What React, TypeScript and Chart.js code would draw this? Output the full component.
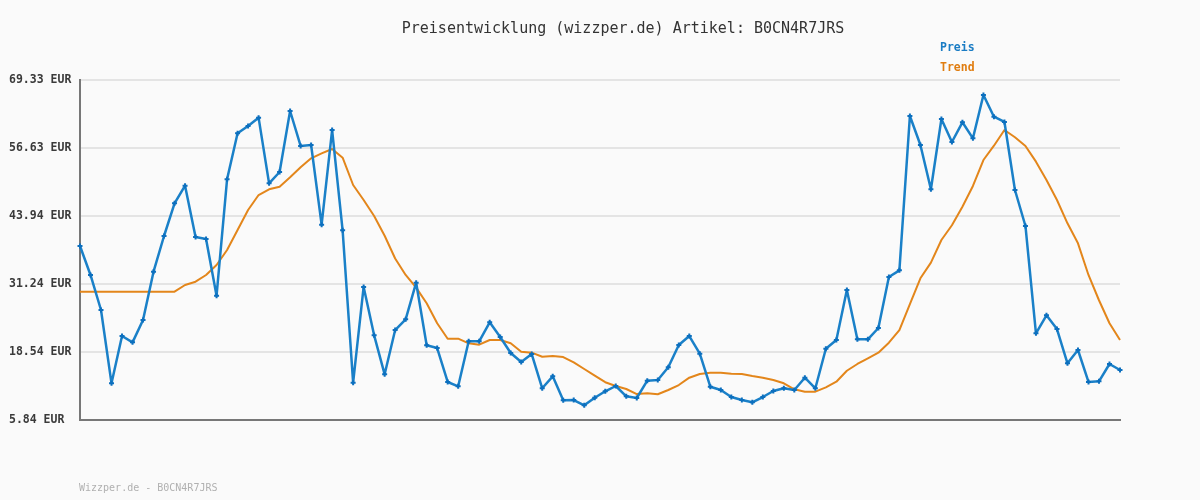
import React, { useEffect, useRef } from "react";
import { Chart, registerables } from "chart.js";

Chart.register(...registerables);

const TITLE = "Preisentwicklung (wizzper.de) Artikel: B0CN4R7JRS";
const FOOTER = "Wizzper.de - B0CN4R7JRS";
const SERIES_NAMES = ["Preis", "Trend"];

const yTicks = [5.84, 18.54, 31.24, 43.94, 56.63, 69.33];

const price = [
  38.33, 32.92, 26.38, 12.69, 21.52, 20.34, 24.51, 33.54, 40.2, 46.3,
  49.6, 40.01, 39.64, 29.06, 50.78, 59.37, 60.74, 62.3, 50.03, 52.15,
  63.54, 57.01, 57.19, 42.31, 59.99, 41.26, 12.81, 30.68, 21.65, 14.37,
  22.64, 24.64, 31.48, 19.79, 19.28, 12.94, 12.13, 20.53, 20.53, 24.08,
  21.34, 18.35, 16.67, 18.16, 11.76, 14.0, 9.52, 9.57, 8.58, 10.0,
  11.2, 12.19, 10.26, 9.95, 13.18, 13.31, 15.68, 19.84, 21.52, 18.22,
  12.06, 11.44, 10.13, 9.57, 9.14, 10.13, 11.25, 11.76, 11.44, 13.74,
  11.76, 19.15, 20.78, 30.11, 20.91, 20.91, 23.02, 32.54, 33.79, 62.61,
  57.19, 48.92, 62.05, 57.75, 61.43, 58.44, 66.53, 62.48, 61.49, 48.79,
  42.07, 22.03, 25.39, 22.83, 16.43, 18.91, 12.94, 13.06, 16.3, 15.18,
];

const trend = [
  29.8, 29.8, 29.8, 29.8, 29.8, 29.8, 29.8, 29.8, 29.8, 29.8,
  31.05, 31.67, 32.92, 34.78, 37.58, 41.32, 45.05, 47.85, 48.92, 49.41,
  51.16, 53.02, 54.7, 55.64, 56.44, 54.82, 49.72, 46.92, 43.93, 40.25,
  36.0, 32.92, 30.55, 27.63, 23.9, 21.02, 21.02, 20.16, 19.9, 20.78,
  20.78, 20.16, 18.6, 18.41, 17.66, 17.79, 17.6, 16.61, 15.36, 14.11,
  12.9, 12.19, 11.63, 10.69, 10.82, 10.64, 11.44, 12.37, 13.74, 14.43,
  14.67, 14.67, 14.48, 14.43, 14.06, 13.74, 13.31, 12.69, 11.57, 11.13,
  11.13, 11.94, 12.99, 15.04, 16.3, 17.35, 18.41, 20.27, 22.64, 27.5,
  32.3, 35.22, 39.45, 42.2, 45.67, 49.54, 54.39, 57.06, 59.99, 58.63,
  57.01, 54.08, 50.66, 46.92, 42.57, 38.83, 32.92, 28.2, 23.9, 20.78,
];

const categories = price.map((_, i) => String(i + 1));

const MONO = '"DejaVu Sans Mono", "Liberation Mono", monospace';
const BLUE = "#1a80c8";
const BLUE_DARK = "#0c6fbe";
const ORANGE = "#e3861b";

const textPlugin = {
  id: "texts",
  beforeDraw(chart: any) {
    const ctx = chart.ctx;
    ctx.save();
    ctx.fillStyle = "#fafafa";
    ctx.fillRect(0, 0, chart.width, chart.height);
    ctx.restore();
  },
  afterDraw(chart: any) {
    const ctx = chart.ctx;
    ctx.save();
    ctx.textBaseline = "alphabetic";
    ctx.font = `15px ${MONO}`;
    ctx.fillStyle = "#333333";
    ctx.textAlign = "center";
    ctx.fillText(TITLE, 623, 33);

    ctx.textAlign = "left";
    ctx.font = `bold 11.5px ${MONO}`;
    ctx.fillStyle = "#1a7cc4";
    ctx.fillText(SERIES_NAMES[0], 940, 51);
    ctx.fillStyle = "#e07d10";
    ctx.fillText(SERIES_NAMES[1], 940, 71);

    ctx.font = `10px ${MONO}`;
    ctx.fillStyle = "#b0b0b0";
    ctx.fillText(FOOTER, 79, 491);
    ctx.restore();
  },
};

export default function App() {
  const ref = useRef<HTMLCanvasElement | null>(null);

  useEffect(() => {
    if (!ref.current) return;
    const chart = new Chart(ref.current, {
      type: "line",
      data: {
        labels: categories,
        datasets: [
          {
            label: SERIES_NAMES[0],
            data: price,
            borderColor: BLUE,
            borderWidth: 2.5,
            borderJoinStyle: "round",
            tension: 0,
            pointStyle: "cross",
            pointRadius: 2.5,
            pointBorderWidth: 2,
            pointBorderColor: BLUE_DARK,
            pointBackgroundColor: BLUE_DARK,
            order: 1,
          },
          {
            label: SERIES_NAMES[1],
            data: trend,
            borderColor: ORANGE,
            borderWidth: 2,
            borderJoinStyle: "round",
            tension: 0,
            pointRadius: 0,
            order: 2,
          },
        ],
      },
      options: {
        responsive: false,
        animation: false,
        devicePixelRatio: 1,
        layout: { padding: { top: 80, right: 80, bottom: 80, left: 9 } },
        plugins: {
          legend: { display: false },
          title: { display: false },
          tooltip: { enabled: false },
        },
        scales: {
          x: {
            type: "category",
            offset: false,
            ticks: { display: false },
            grid: { display: false, drawTicks: false },
            border: { display: true, color: "#777777", width: 2 },
            afterFit: (s: any) => {
              s.height = 0;
            },
          },
          y: {
            min: yTicks[0],
            max: yTicks[yTicks.length - 1],
            afterBuildTicks: (s: any) => {
              s.ticks = yTicks.map((v) => ({ value: v }));
            },
            afterFit: (s: any) => {
              s.width = 71;
            },
            ticks: {
              crossAlign: "far",
              padding: 0,
              color: "#3a3a3a",
              font: { family: MONO, size: 11.5, weight: "bold" },
              callback: (v: any) => `${Number(v).toFixed(2)} EUR`,
            },
            grid: {
              color: "#e4e4e4",
              lineWidth: 2,
              drawTicks: false,
            },
            border: { display: true, color: "#777777", width: 2 },
          },
        },
      },
      plugins: [textPlugin],
    });
    return () => chart.destroy();
  }, []);

  return (
    <div
      style={{
        position: "absolute",
        left: 0,
        top: 0,
        width: 1200,
        height: 500,
        background: "#fafafa",
      }}
    >
      <canvas ref={ref} width={1200} height={500} />
    </div>
  );
}
